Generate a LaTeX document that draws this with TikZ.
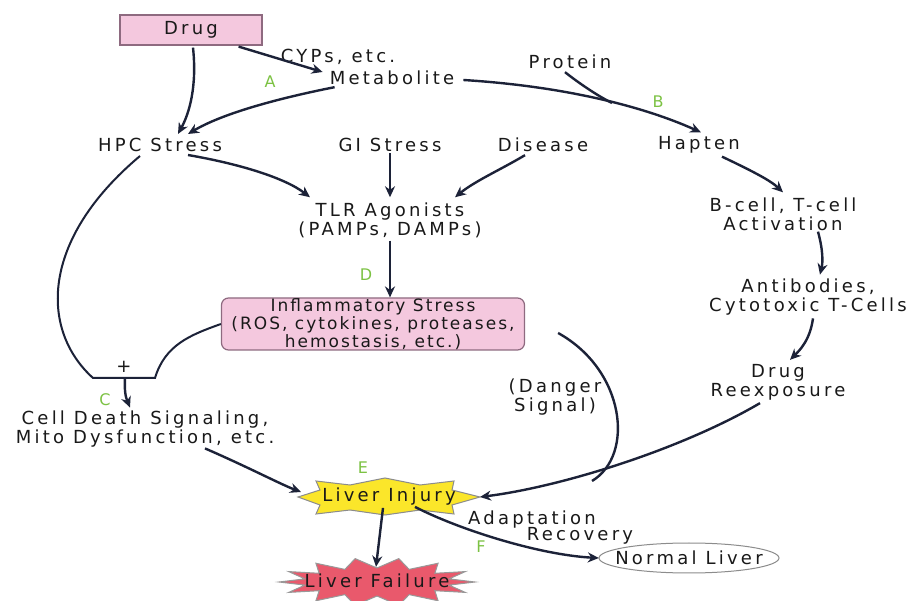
\documentclass[tikz,border=0pt]{standalone}
\usepackage{fontspec}
\setmainfont{DejaVu Sans}
\newfontfamily\widefont[LetterSpace=18]{DejaVu Sans}
\newfontfamily\boxfont[LetterSpace=12]{DejaVu Sans}
\usetikzlibrary{arrows.meta,calc,shapes.geometric}
\definecolor{ink}{HTML}{1C2238}
\definecolor{pinkfill}{HTML}{F4C8DE}
\definecolor{pinkdraw}{HTML}{8E6A80}
\definecolor{lgreen}{HTML}{7CC243}
\definecolor{injyellow}{HTML}{FBE62A}
\definecolor{failred}{HTML}{E9596C}
\tikzset{
  lbl/.style={font=\widefont\fontsize{18}{19}\selectfont, text=black!90, align=center, inner sep=1pt},
  tag/.style={font=\fontsize{16}{16}\selectfont, text=lgreen, inner sep=0pt},
  pinkbox/.style={lbl, draw=pinkdraw, fill=pinkfill, line width=1.2pt},
  arr/.style={draw=ink, line width=2.4pt, -{Stealth[length=11pt,width=10pt]}},
  ln/.style={draw=ink, line width=2.4pt},
}
\begin{document}
\begin{tikzpicture}[x=1pt,y=-1pt]
\useasboundingbox (0,0) rectangle (914,601);
\fill[white] (0,0) rectangle (914,601);
% shapes
\path[fill=injyellow, draw=black!45, line width=1pt]
 (298,497) -- (320,490) -- (316,481) -- (350,485) -- (385,478) -- (420,485) -- (454,481)
 -- (452,490) -- (480,497) -- (452,505) -- (454,514) -- (420,510) -- (385,515)
 -- (350,510) -- (316,514) -- (320,505) -- cycle;
\path[fill=failred, draw=black!40, line width=1pt]
 plot[samples=28, domain=0:27, variable=\k]
 ({377+ifthenelse(mod(\k,2)==0,98,74)*cos(\k*360/28)},
  {582+ifthenelse(mod(\k,2)==0,24,14)*sin(\k*360/28)}) -- cycle;
% nodes
\node[pinkbox, minimum width=142pt, minimum height=30pt] (drug) at (191,30) {Drug};
\node[lbl] (cyp) at (338,57) {CYPs, etc.};
\node[lbl] (metab) at (392,78) {Metabolite};
\node[tag] (tA) at (270,82) {A};
\node[lbl] (protein) at (570,62) {Protein};
\node[tag] (tB) at (658,102) {B};
\node[lbl] (hpc) at (160,145) {HPC Stress};
\node[lbl] (gi) at (390,145) {GI Stress};
\node[lbl] (disease) at (543,145) {Disease};
\node[lbl] (hapten) at (699,145) {Hapten};
\node[lbl] (tlr) at (390,220) {TLR Agonists\\(PAMPs, DAMPs)};
\node[lbl] (bcell) at (783,214) {B-cell, T-cell\\Activation};
\node[tag] (tD) at (366,275) {D};
\node[pinkbox, font=\boxfont\fontsize{17}{18}\selectfont, rounded corners=7pt, minimum width=303pt, minimum height=52pt, inner sep=0pt] (inflam) at (373,324)
  {Inflammatory Stress\\(ROS, cytokines, proteases,\\hemostasis, etc.)};
\node[lbl] (antib) at (808,297) {Antibodies,\\Cytotoxic T-Cells};
\node[lbl] (reexp) at (778,382) {Drug\\Reexposure};
\node[lbl] (danger) at (555,397) {(Danger\\Signal)};
\node[lbl] (plus) at (124,367) {+};
\node[tag] (tC) at (105,400) {C};
\node[lbl] (cell) at (145,429) {Cell Death Signaling,\\Mito Dysfunction, etc.};
\node[tag] (tE) at (363,468) {E};
\node[lbl] (injury) at (389,497) {Liver Injury};
\node[lbl] (failure) at (377,581) {Liver Failure};
\node[lbl] (adapt) at (532,520) {Adaptation};
\node[lbl] (recov) at (580,536) {Recovery};
\node[tag] (tF) at (481,547) {F};
\node[lbl, inner sep=0pt, minimum width=180pt, minimum height=30pt] (normal) at (689,558) {Normal Liver};
\draw[black!45, line width=1pt] (normal.center) ellipse [x radius=90, y radius=15];
\coordinate (brL) at (93,378);
\coordinate (brR) at (155,378);
\coordinate (brM) at (125,378);
\coordinate (merge) at (612,103);
\coordinate (join) at (592,481);
% connectors
\draw[arr] ($(drug.south)+(2,2)$) .. controls (197,85) and (190,112) .. ($(hpc.north)+(18,-3)$);
\draw[arr] ($(drug.south east)+(-24,1)$) -- ($(metab.west)+(-6,-6)$);
\draw[arr] ($(metab.south west)+(6,1)$) .. controls (270,100) and (220,115) .. ($(hpc.north)+(28,-3)$);
\draw[arr] ($(metab.east)+(8,2)$) .. controls (560,86) and (640,105) .. ($(hapten.north)+(2,-3)$);
\draw[ln] ($(protein.south)+(-5,2)$) .. controls (580,84) and (598,96) .. (merge);
\draw[arr] ($(hpc.south)+(28,2)$) .. controls (240,164) and (285,178) .. ($(tlr.north)+(-80,-4)$);
\draw[arr] (gi.south) -- ($(tlr.north)+(0,-4)$);
\draw[arr] ($(disease.south)+(-18,2)$) .. controls (500,170) and (475,181) .. ($(tlr.north)+(65,-4)$);
\draw[arr] ($(hapten.south)+(23,2)$) .. controls (750,170) and (770,180) .. ($(bcell.north)+(0,-4)$);
\draw[arr] ($(tlr.south)+(0,2)$) -- (inflam.north -| tlr.south);
\draw[arr] ($(bcell.south)+(35,0)$) .. controls (823,250) and (823,262) .. ($(antib.north)+(12,-3)$);
\draw[arr] ($(antib.south)+(5,2)$) .. controls (810,340) and (800,350) .. ($(reexp.north)+(12,-3)$);
\draw[ln] ($(inflam.east)+(33,9)$) .. controls (625,370) and (635,455) .. (join);
\draw[arr] ($(reexp.south)+(-18,2)$) .. controls (680,450) and (560,487) .. (480,497);
\draw[arr] ($(cell.south)+(60,0)$) .. controls (250,468) and (280,484) .. (301,492);
\draw[arr] ($(injury.south)+(-6,1)$) -- ($(failure.north)+(-1,-6)$);
\draw[arr] ($(injury.south)+(26,0)$) .. controls (460,530) and (540,555) .. (normal.west);
\draw[ln, line width=2pt] ($(hpc.south)+(-20,3)$) .. controls (40,240) and (40,330) .. (brL) -- (brR)
  .. controls (165,345) and (190,335) .. (inflam.west);
\draw[arr] (brM) .. controls (124,395) and (127,400) .. ($(cell.north)+(-15,-2)$);
\end{tikzpicture}
\end{document}
